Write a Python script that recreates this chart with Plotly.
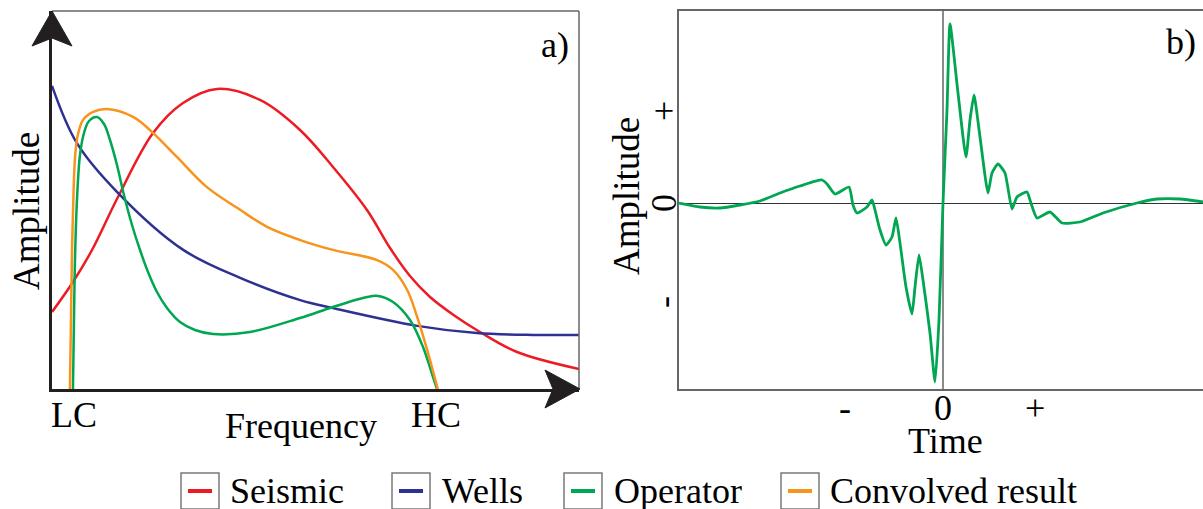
import plotly.graph_objects as go

W, H = 1203, 509
FONT = "Liberation Serif"

# ---- panel a: amplitude spectra (frequency 0-100, amplitude 0-100) ----
seismic_f = [0, 3.98, 7.59, 12.52, 19.17, 24.86, 31.31, 39.47, 47.06, 53.32, 59.77, 64.14, 67.93,
             71.73, 76.47, 81.21, 88.24, 100]
seismic_a = [20.37, 28.31, 36.77, 50.79, 67.72, 75.66, 79.37, 76.46, 68.52, 58.73, 47.35, 37.30, 29.89,
             24.34, 19.31, 15.08, 9.79, 5.29]

wells_f = [0, 4.7, 12.5, 24.9, 35.7, 47.1, 53.3, 69.3, 80.6, 91.3, 100]
wells_a = [80.2, 65.1, 51.9, 36.8, 29.4, 23.5, 21.4, 16.7, 14.8, 14.3, 14.3]

operator_f = [3.98, 4.17, 4.36, 4.74, 5.31, 6.07, 7.02, 8.54, 9.87, 11.01, 12.33, 13.66, 15.18, 16.70,
              18.22, 19.92, 21.82, 24.29, 27.13, 30.55, 37.57, 47.06, 53.32, 59.77, 61.86, 64.71,
              67.93, 70.40, 72.30, 73.06]
operator_a = [0, 18.25, 34.13, 50.0, 61.90, 67.72, 70.90, 71.96, 70.11, 65.87, 59.26, 51.32, 43.39, 36.77,
              30.95, 25.66, 21.43, 17.72, 15.61, 14.55, 15.08, 18.78, 21.69, 24.34, 24.60, 23.02,
              18.25, 11.11, 3.17, 0]

convolved_f = [3.4, 3.6, 3.8, 4.1, 4.4, 4.9, 5.9, 7.8, 10.4, 15.4, 19.2, 23.7, 29.4, 35.7, 40.8,
               47.1, 53.3, 61.7, 64.7, 67.4, 69.3, 71.2, 73.2]
convolved_a = [0, 18.3, 36.8, 52.6, 61.9, 67.2, 71.2, 73.3, 74.1, 72.0, 67.7, 61.4, 53.4, 47.4, 42.9,
               39.4, 36.8, 34.1, 31.5, 26.2, 19.0, 10.3, 0]

freq_ticks = [4.17, 72.9]
freq_labels = ["LC", "HC"]

# ---- panel b: operator in time ----
op_time = [-2.64, -2.43, -2.23, -2.03, -1.83, -1.63, -1.43, -1.21, -1.16, -1.08, -0.94, -0.90, -0.86,
           -0.76, -0.71, -0.68, -0.63, -0.57, -0.51, -0.47, -0.43, -0.37, -0.31, -0.28, -0.24, -0.20,
           -0.13, -0.08, -0.04, 0.0, 0.04, 0.07, 0.15, 0.23, 0.27, 0.31, 0.37, 0.45, 0.49, 0.55, 0.62,
           0.69, 0.74, 0.84, 0.87, 0.94, 1.07, 1.19, 1.37, 1.60, 1.94, 2.14, 2.37, 2.60]
op_amp = [0, -0.04, -0.05, -0.02, 0.02, 0.10, 0.17, 0.23, 0.19, 0.09, 0.16, -0.02, -0.10,
          -0.04, 0.03, -0.07, -0.27, -0.42, -0.34, -0.15, -0.40, -0.84, -1.11, -0.84, -0.52, -0.77,
          -1.30, -1.79, -1.17, 0.0, 0.93, 1.79, 1.10, 0.46, 0.83, 1.08, 0.66, 0.10, 0.30, 0.39, 0.30,
          -0.06, 0.06, 0.11, 0.03, -0.15, -0.09, -0.20, -0.19, -0.10, 0.0, 0.04, 0.04, 0.01]

time_ticks = [-0.98, 0, 0.92]
time_labels = ["-", "0", "+"]
amp_ticks = [-0.99, 0, 0.92]
amp_labels = ["-", "0", "+"]

RED, BLUE, GREEN, ORANGE = "#ed1c24", "#2e3192", "#00a651", "#f7941d"
series_names = ["Seismic", "Wells", "Operator", "Convolved result"]
series_colors = [RED, BLUE, GREEN, ORANGE]


def P(px, py):
    """pixel position -> paper coordinates"""
    return px / W, 1 - py / H


def py_paper(py):
    return 1 - py / H


def px_paper(px):
    return px / W


fig = go.Figure()
for f, a, c, name in [(seismic_f, seismic_a, RED, "Seismic"), (wells_f, wells_a, BLUE, "Wells"),
                      (operator_f, operator_a, GREEN, "Operator"),
                      (convolved_f, convolved_a, ORANGE, "Convolved result")]:
    fig.add_trace(go.Scatter(x=f, y=a, mode="lines", name=name, xaxis="x", yaxis="y",
                             line=dict(color=c, width=2.5, shape="spline", smoothing=1.0),
                             showlegend=False))

fig.add_trace(go.Scatter(x=op_time, y=op_amp, mode="lines", name="Operator", xaxis="x2", yaxis="y2",
                         line=dict(color=GREEN, width=2.8, shape="spline", smoothing=0.5),
                         showlegend=False))

ydom = [1 - 389 / H, 1 - 11 / H]
fig.update_layout(
    width=W, height=H, margin=dict(l=0, r=0, t=0, b=0),
    paper_bgcolor="white", plot_bgcolor="white",
    font=dict(family=FONT, size=36, color="black"),
    xaxis=dict(domain=[52 / W, 579 / W], range=[0, 100], showgrid=False, zeroline=False,
               showline=True, linecolor="#231f20", linewidth=3, showticklabels=False,
               ticks="", automargin=False),
    yaxis=dict(domain=ydom, range=[0, 100], showgrid=False, zeroline=False,
               showline=True, linecolor="#231f20", linewidth=3, showticklabels=False,
               ticks="", automargin=False),
    xaxis2=dict(domain=[679 / W, 1], range=[-2.64, 2.60], showgrid=False,
                zeroline=True, zerolinecolor="#8a8a8a", zerolinewidth=1.5,
                showline=True, mirror=True, linecolor="#666666", linewidth=2,
                showticklabels=False, ticks="", automargin=False, anchor="y2"),
    yaxis2=dict(domain=ydom, range=[-1.86, 1.92], showgrid=False,
                zeroline=True, zerolinecolor="#333333", zerolinewidth=1,
                showline=True, linecolor="#666666", linewidth=2,
                showticklabels=False, ticks="", automargin=False, anchor="x2"),
)

shapes = []
# thin top and right frame of panel a
x0, y0 = P(52, 11)
x1, y1 = P(579, 11)
shapes.append(dict(type="line", xref="paper", yref="paper", x0=x0, y0=y0, x1=x1, y1=y1,
                   line=dict(color="#666666", width=1.5)))
x0, y0 = P(579, 11)
x1, y1 = P(579, 389)
shapes.append(dict(type="line", xref="paper", yref="paper", x0=x0, y0=y0, x1=x1, y1=y1,
                   line=dict(color="#666666", width=1.5)))


def arrow_path(pts):
    coords = [P(*p) for p in pts]
    return "M " + " L ".join(f"{x:.5f},{y:.5f}" for x, y in coords) + " Z"


# arrowheads on the frequency and amplitude axes
shapes.append(dict(type="path", xref="paper", yref="paper",
                   path=arrow_path([(52, 11), (72, 46), (52, 38), (32, 46)]),
                   fillcolor="#231f20", line=dict(color="#231f20", width=1)))
shapes.append(dict(type="path", xref="paper", yref="paper",
                   path=arrow_path([(580, 389), (545, 408), (553, 389), (545, 370)]),
                   fillcolor="#231f20", line=dict(color="#231f20", width=1)))

# legend boxes with coloured line samples
legend_box_x = [181, 392, 564, 781]
legend_text_x = [228, 440, 612, 828]
annotations = []
for bx, tx, name, col in zip(legend_box_x, legend_text_x, series_names, series_colors):
    a0, b0 = P(bx, 473)
    a1, b1 = P(bx + 38, 509)
    shapes.append(dict(type="rect", xref="paper", yref="paper", x0=a0, y0=b1, x1=a1, y1=b0,
                       line=dict(color="#7a7a7a", width=1.5), fillcolor="white"))
    a0, b0 = P(bx + 7, 491)
    a1, _ = P(bx + 31, 491)
    shapes.append(dict(type="line", xref="paper", yref="paper", x0=a0, y0=b0, x1=a1, y1=b0,
                       line=dict(color=col, width=4)))
    ax, ay = P(tx, 491)
    annotations.append(dict(text=name, x=ax, y=ay, xref="paper", yref="paper",
                            xanchor="left", yanchor="middle", showarrow=False,
                            font=dict(family=FONT, size=36)))


def label(text, px, py, angle=0, size=36):
    ax, ay = P(px, py)
    return dict(text=text, x=ax, y=ay, xref="paper", yref="paper", xanchor="center",
                yanchor="middle", showarrow=False, textangle=angle,
                font=dict(family=FONT, size=size))


annotations += [
    label("Amplitude", 26, 211, -90, 37),
    label("Frequency", 301, 426),
    label("a)", 555, 45),
    label("Amplitude", 627, 196, -90, 37),
    label("Time", 945, 441),
    label("b)", 1181, 42),
]

# tick labels placed on the axes' own scales
for v, t in zip(freq_ticks, freq_labels):
    annotations.append(dict(text=t, x=v, y=py_paper(415), xref="x", yref="paper",
                            xanchor="center", yanchor="middle", showarrow=False,
                            font=dict(family=FONT, size=36)))
for v, t in zip(time_ticks, time_labels):
    annotations.append(dict(text=t, x=v, y=py_paper(408), xref="x2", yref="paper",
                            xanchor="center", yanchor="middle", showarrow=False,
                            font=dict(family=FONT, size=36)))
for v, t in zip(amp_ticks, amp_labels):
    annotations.append(dict(text=t, x=px_paper(664), y=v, xref="paper", yref="y2",
                            xanchor="center", yanchor="middle", showarrow=False, textangle=-90,
                            font=dict(family=FONT, size=36)))

fig.update_layout(shapes=shapes, annotations=annotations)
fig.write_html("out.html")
